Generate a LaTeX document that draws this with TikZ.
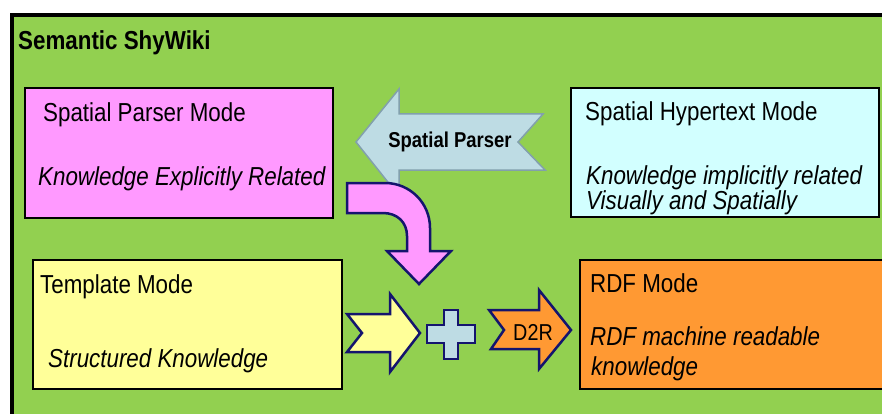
\documentclass[tikz,border=0pt]{standalone}
\usepackage{fontspec}
\setmainfont{Liberation Sans}[FakeStretch=0.86]
\definecolor{shygreen}{RGB}{146,208,80}
\definecolor{parserpink}{RGB}{255,153,255}
\definecolor{hypercyan}{RGB}{210,255,255}
\definecolor{templateyellow}{RGB}{255,255,153}
\definecolor{rdforange}{RGB}{255,153,51}
\definecolor{plusblue}{RGB}{190,220,228}
\definecolor{arrownavy}{RGB}{20,20,110}
\definecolor{shadowblue}{RGB}{130,160,172}

\begin{document}
\begin{tikzpicture}[x=1pt,y=-1pt,
    modebox/.style={draw=black, line width=2.5pt, inner sep=0pt},
    modetext/.style={anchor=base west, inner sep=0pt, font=\fontsize{26}{30}\selectfont},
    blockarrow/.style={draw=arrownavy, line width=2.5pt, line join=miter}]
    % Page and outer frame
    \useasboundingbox (0,0) rectangle (882,414);
    \clip (0,0) rectangle (882,414);
    \draw[line width=4pt, fill=shygreen] (12,15) rectangle (900,430);
    \node[anchor=base west, inner sep=0pt, font=\bfseries\fontsize{26}{30}\selectfont] (title) at (18,50) {Semantic ShyWiki};

    % Mode boxes
    \node[modebox, fill=parserpink, minimum width=308pt, minimum height=130pt] (parser) at (179,153) {};
    \node[modebox, fill=hypercyan, minimum width=308pt, minimum height=129pt] (hyper) at (725,152.5) {};
    \node[modebox, fill=templateyellow, minimum width=309pt, minimum height=129pt] (template) at (187.5,324.5) {};
    \node[modebox, fill=rdforange, minimum width=330pt, minimum height=129pt] (rdf) at (745,324.5) {};

    % Texts of the boxes
    \node[modetext] (parsername) at (43,122) {Spatial Parser Mode};
    \node[modetext] (parserinfo) at (38,185) {\itshape Knowledge Explicitly Related};
    \node[modetext] (hypername) at (585,121) {Spatial Hypertext Mode};
    \node[modetext] (hyperinfo) at (586,184) {\itshape Knowledge implicitly related};
    \node[modetext] (hyperinfob) at (586,209) {\itshape Visually and Spatially};
    \node[modetext] (templatename) at (40,293) {Template Mode};
    \node[modetext] (templateinfo) at (48,367) {\itshape Structured Knowledge};
    \node[modetext] (rdfname) at (590,292) {RDF Mode};
    \node[modetext] (rdfinfo) at (590,345) {\itshape RDF machine readable};
    \node[modetext] (rdfinfob) at (591,375) {\itshape knowledge};

    % Spatial parser arrow
    \draw[fill=plusblue, draw=shadowblue, line width=1.5pt]
        (356,142) -- (399,89) -- (399,114) -- (543,114) -- (518,142)
        -- (545,170) -- (399,170) -- (399,196) -- cycle;
    \node[inner sep=0pt, font=\bfseries\fontsize{21.5}{26}\selectfont] (spatialparser) at (450,142) {Spatial Parser};

    % Bent arrow into the plus
    \draw[blockarrow, fill=parserpink]
        (347,183) -- (385,183) .. controls (410,183) and (430,203) .. (430,228)
        -- (430,251) -- (451,251) -- (419,284) -- (387,251) -- (407,251) -- (407,236)
        .. controls (407,222) and (397,213) .. (383,213) -- (347,213) -- cycle;

    % Template arrow, plus and D2R arrow
    \draw[blockarrow, fill=templateyellow]
        (347,314) -- (390,314) -- (390,294) -- (420,333) -- (390,372)
        -- (390,352) -- (347,352) -- (362,333) -- cycle;
    \draw[blockarrow, fill=plusblue]
        (427,325) -- (444,325) -- (444,310) -- (458,310) -- (458,325) -- (475,325)
        -- (475,343) -- (458,343) -- (458,359) -- (444,359) -- (444,343) -- (427,343) -- cycle;
    \draw[blockarrow, fill=rdforange]
        (489,310) -- (539,310) -- (539,290) -- (571,330) -- (539,369)
        -- (539,349) -- (491,349) -- (504,330) -- cycle;
    \node[inner sep=0pt, font=\fontsize{23}{26}\selectfont] (dtor) at (533,332) {D2R};
\end{tikzpicture}
\end{document}
